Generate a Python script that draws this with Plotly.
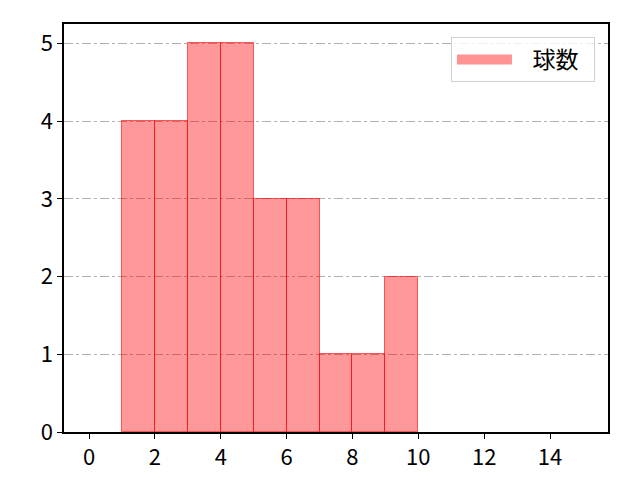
import plotly.graph_objects as go

# histogram bins (left edges) and counts
bin_left = [1, 2, 3, 4, 5, 6, 7, 8, 9]
counts = [4, 4, 5, 5, 3, 3, 1, 1, 2]
x_ticks = [0, 2, 4, 6, 8, 10, 12, 14]
y_ticks = [0, 1, 2, 3, 4, 5]

FONT = 'Noto Sans CJK JP'
FILL = 'rgba(255,0,0,0.4)'
EDGE = 'rgba(255,0,0,0.6)'

fig = go.Figure()
fig.add_trace(go.Bar(
    x=[b + 0.5 for b in bin_left],
    y=counts,
    width=1,
    name='球数',
    marker=dict(color=FILL, line=dict(color=EDGE, width=1)),
    showlegend=False,
))
# legend patch (wide rectangle like matplotlib)
fig.add_trace(go.Scatter(
    x=[None], y=[None], mode='lines', name='\u00a0\u00a0\u00a0球数\u00a0\u00a0',
    line=dict(color='rgba(255,120,120,0.8)', width=20),
))

axis_common = dict(
    showline=True, linecolor='black', linewidth=1.5, mirror=True,
    ticks='outside', ticklen=5, tickwidth=1.2, tickcolor='black',
    tickfont=dict(size=22, color='black', family=FONT),
    zeroline=False,
)

fig.update_layout(
    width=640, height=480,
    margin=dict(l=56, r=40, t=16, b=56),
    plot_bgcolor='white', paper_bgcolor='white',
    font=dict(family=FONT, size=22, color='black'),
    bargap=0,
    xaxis=dict(range=[-0.76, 15.76], tickvals=x_ticks, showgrid=False, **axis_common),
    yaxis=dict(range=[0, 5.25], tickvals=y_ticks, showgrid=True, gridcolor='#b0b0b0',
               griddash='dashdot', gridwidth=1, **axis_common),
    legend=dict(x=0.976, y=0.968, xanchor='right', yanchor='top',
                bordercolor='#d0d0d0', borderwidth=1, bgcolor='rgba(255,255,255,0.8)',
                font=dict(size=23, family=FONT), itemwidth=55),
)

fig.write_html('out.html')
